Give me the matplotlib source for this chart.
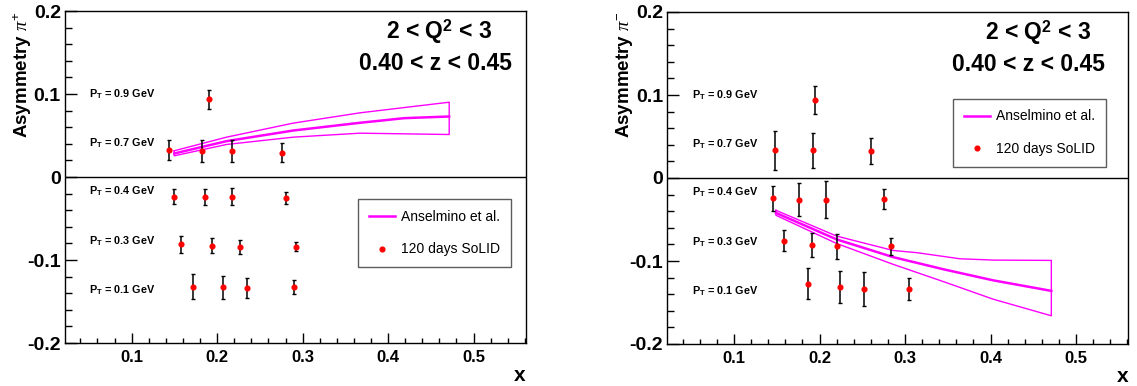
import matplotlib.pyplot as plt
from matplotlib.lines import Line2D
from matplotlib.ticker import MultipleLocator

plt.rcParams['font.family'] = ['Liberation Sans', 'DejaVu Sans']
plt.rcParams['mathtext.fontset'] = 'custom'
plt.rcParams['mathtext.rm'] = 'Liberation Sans'
plt.rcParams['mathtext.bf'] = 'Liberation Sans:bold'
plt.rcParams['mathtext.it'] = 'Liberation Serif:italic'

# pT bins, labels at fixed asymmetry heights
pt_labels = ['0.9', '0.7', '0.4', '0.3', '0.1']
pt_label_y = [0.100, 0.041, -0.0175, -0.0775, -0.1367]

# ---- pi+ projected points ----
pip_x = [0.190,
         0.1436, 0.1818, 0.2174, 0.2757,
         0.1495, 0.1855, 0.2170, 0.2811,
         0.1574, 0.1939, 0.2270, 0.2925,
         0.1713, 0.2065, 0.2346, 0.2900]
pip_y = [0.0935,
         0.0330, 0.0315, 0.0315, 0.0294,
         -0.0238, -0.0238, -0.0240, -0.0250,
         -0.0810, -0.0827, -0.0843, -0.0839,
         -0.1323, -0.1330, -0.1339, -0.1330]
pip_err = [0.0115,
           0.0120, 0.0135, 0.0135, 0.0117,
           0.0090, 0.0095, 0.0103, 0.0070,
           0.0103, 0.0087, 0.0079, 0.0054,
           0.0150, 0.0135, 0.0119, 0.0085]

# Anselmino et al. band for pi+
pip_band_x = [0.1498, 0.211, 0.289, 0.367, 0.4715]
pip_band_hi = [0.0316, 0.0480, 0.0649, 0.0773, 0.0901]
pip_band_lo = [0.0255, 0.0392, 0.0480, 0.0528, 0.0512]
pip_mid_x = [0.1498, 0.211, 0.289, 0.367, 0.419, 0.4715]
pip_mid = [0.0283, 0.0432, 0.0560, 0.0653, 0.0709, 0.0729]

# ---- pi- projected points ----
pim_x = [0.1947,
         0.148, 0.192, 0.260,
         0.1453, 0.1757, 0.2072, 0.2758,
         0.1585, 0.1916, 0.2205, 0.2833,
         0.1870, 0.2243, 0.2520, 0.3043]
pim_y = [0.0944,
         0.0332, 0.0332, 0.0328,
         -0.0245, -0.0260, -0.0260, -0.0249,
         -0.0757, -0.0805, -0.0821, -0.0825,
         -0.1273, -0.1309, -0.1333, -0.1337]
pim_err = [0.0168,
           0.0236, 0.0210, 0.0156,
           0.0150, 0.0200, 0.0222, 0.0120,
           0.0126, 0.0144, 0.0150, 0.0100,
           0.0190, 0.0192, 0.0204, 0.0136]

pim_hi_x = [0.149, 0.220, 0.286, 0.314, 0.364, 0.403, 0.471]
pim_band_hi = [-0.0389, -0.0700, -0.0873, -0.0900, -0.0973, -0.0989, -0.0993]
pim_lo_x = [0.149, 0.220, 0.286, 0.345, 0.403, 0.471]
pim_band_lo = [-0.0449, -0.0789, -0.1040, -0.1249, -0.1460, -0.1660]
pim_mid = [-0.0420, -0.0740, -0.0953, -0.1100, -0.1233, -0.1360]

W, H = 1137, 386
fig = plt.figure(figsize=(W / 100, H / 100), dpi=100)

magenta = '#ff00ff'


def make_panel(rect, charge, px, py, perr, hx, hi, lx, lo, mx, mid,
               leg_anchor, title_pos):
    ax = fig.add_axes(rect)
    ax.set_xlim(0.022, 0.561)
    ax.set_ylim(-0.2, 0.2)
    ax.axhline(0, color='black', lw=1.0)

    # band outline: upper edge, closing line, lower edge back
    ox = hx + lx[::-1] + [hx[0]]
    oy = hi + lo[::-1] + [hi[0]]
    ax.plot(ox, oy, color=magenta, lw=1.0)
    ax.plot(mx, mid, color=magenta, lw=1.8)

    ax.errorbar(px, py, yerr=perr, fmt='o', color='red', ms=3.4,
                ecolor='black', elinewidth=1.1, capsize=1.2, capthick=1.0,
                zorder=3)

    for lab, yy in zip(pt_labels, pt_label_y):
        ax.text(0.0505, yy, r'$\mathbf{P_{T}}$ = ' + lab + ' GeV',
                fontsize=7.8, fontweight='bold', va='center', ha='left')

    ax.text(title_pos[0], 0.9377, r'2 < Q$^{\mathbf{2}}$ < 3',
            transform=ax.transAxes, fontsize=16.5, fontweight='bold',
            ha='center', va='center')
    ax.text(title_pos[1], 0.8425, '0.40 < z < 0.45',
            transform=ax.transAxes, fontsize=16.5, fontweight='bold',
            ha='center', va='center')

    handles = [Line2D([], [], color=magenta, lw=1.8),
               Line2D([], [], color='red', marker='o', ms=3.4, ls='none')]
    leg = ax.legend(handles, ['Anselmino et al.', '120 days SoLID'],
                    loc='upper left', bbox_to_anchor=leg_anchor,
                    fontsize=10, frameon=True, fancybox=False,
                    edgecolor='#333333', handlelength=1.9,
                    handletextpad=0.45, labelspacing=1.35, borderpad=0.75,
                    borderaxespad=0)
    leg.get_frame().set_linewidth(1.0)

    ax.xaxis.set_major_locator(MultipleLocator(0.1))
    ax.xaxis.set_minor_locator(MultipleLocator(0.02))
    ax.yaxis.set_major_locator(MultipleLocator(0.1))
    ax.yaxis.set_minor_locator(MultipleLocator(0.02))
    ax.tick_params(which='both', direction='in', top=False, right=False)
    ax.tick_params(axis='x', which='major', length=7, width=1,
                   labelsize=12, pad=5)
    ax.tick_params(axis='x', which='minor', length=3.5, width=1)
    ax.tick_params(axis='y', which='major', length=8.5, width=1,
                   labelsize=14, pad=3)
    ax.tick_params(axis='y', which='minor', length=5, width=1)
    for lbl in ax.get_xticklabels() + ax.get_yticklabels():
        lbl.set_fontweight('bold')
    ax.yaxis.set_major_formatter(plt.FuncFormatter(
        lambda v, p: '0' if abs(v) < 1e-9 else f'{v:.1f}'))
    ax.xaxis.set_major_formatter(plt.FuncFormatter(
        lambda v, p: f'{v:.1f}' if v > 0.05 else ''))

    ax.set_xlabel('x', loc='right', fontsize=15, fontweight='bold',
                  labelpad=1)
    ax.set_ylabel(r'Asymmetry $\pi^{' + charge + '}$', loc='top',
                  fontsize=13.5, fontweight='bold', labelpad=-4)
    for sp in ax.spines.values():
        sp.set_linewidth(1.0)
    return ax


make_panel([65 / W, 1 - 343 / H, 460.7 / W, 332 / H], '+',
           pip_x, pip_y, pip_err,
           pip_band_x, pip_band_hi, pip_band_x, pip_band_lo,
           pip_mid_x, pip_mid,
           ((358.3 - 65) / 460.7, (343 - 199.3) / 332), (0.813, 0.804))

make_panel([667.3 / W, 1 - 344 / H, 461 / W, 332 / H], '-',
           pim_x, pim_y, pim_err,
           pim_hi_x, pim_band_hi, pim_lo_x, pim_band_lo,
           pim_lo_x, pim_mid,
           ((953.3 - 667.3) / 461, (344 - 99) / 332), (0.804, 0.783))

fig.savefig('out.png', dpi=100)
